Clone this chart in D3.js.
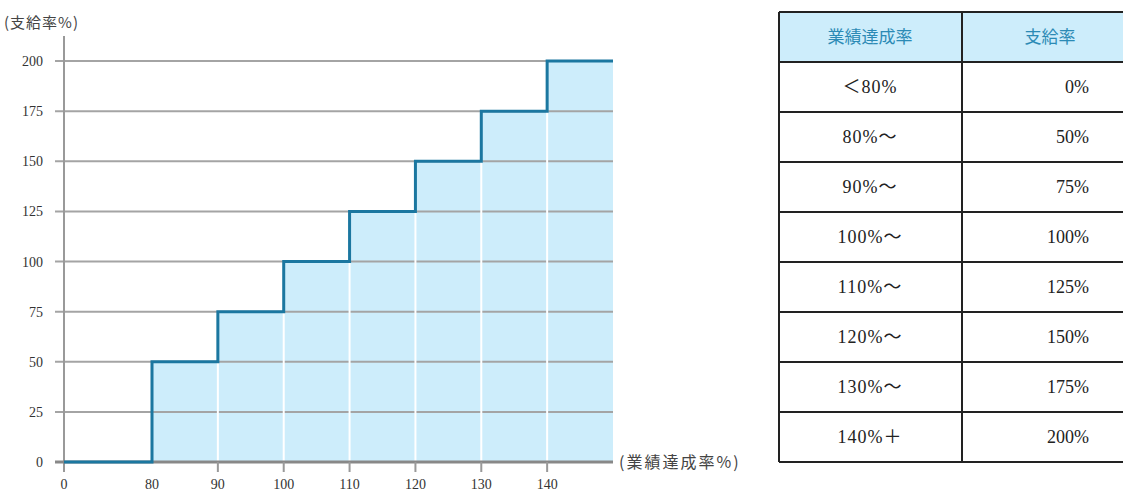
<!DOCTYPE html>
<html><head><meta charset="utf-8">
<script src="https://cdn.jsdelivr.net/npm/d3@7"></script>
<style>body{margin:0;background:#fff}svg{display:block}</style>
</head><body>
<svg id="c" width="1123" height="492"></svg>
<script>
const thresholds = [0, 80, 90, 100, 110, 120, 130, 140];
const payRates = [0, 50, 75, 100, 125, 150, 175, 200];
const xEnd = 150;
const yTicks = [0, 25, 50, 75, 100, 125, 150, 175, 200];
const xTicks = [0, 80, 90, 100, 110, 120, 130, 140];
const tableHeader = ["業績達成率", "支給率"];
const tableCol1 = ["＜80%", "80%～", "90%～", "100%～", "110%～", "120%～", "130%～", "140%＋"];
const tableCol2 = ["0%", "50%", "75%", "100%", "125%", "150%", "175%", "200%"];
const yTitle = "(支給率%)";
const xTitle = "(業績達成率%)";

const svg = d3.select("#c");
const serif = "'Liberation Serif','DejaVu Serif','Noto Sans CJK JP',serif";
const cjk = "'Noto Sans CJK JP',sans-serif";
const x = d3.scaleLinear().domain([0, 80, xEnd]).range([64, 152, 613]);
const y = d3.scaleLinear().domain([0, 200]).range([462, 61]);

const pts = thresholds.map((t, i) => [t, payRates[i]]).concat([[xEnd, payRates[payRates.length - 1]]]);

// area fill
svg.append("path").datum(pts)
  .attr("d", d3.area().curve(d3.curveStepAfter).x(d => x(d[0])).y0(y(0)).y1(d => y(d[1])))
  .attr("fill", "#cdedfb");

// horizontal gridlines
svg.append("g").selectAll("line").data(yTicks.filter(v => v > 0)).join("line")
  .attr("x1", 55).attr("x2", x(xEnd)).attr("y1", d => y(d)).attr("y2", d => y(d))
  .attr("stroke", "#a4a4a4").attr("stroke-width", 2);

// white vertical lines inside fill
svg.append("g").selectAll("line").data(thresholds.slice(2)).join("line")
  .attr("x1", d => x(d)).attr("x2", d => x(d))
  .attr("y1", y(0)).attr("y2", (d, i) => y(payRates[i + 1]))
  .attr("stroke", "#ffffff").attr("stroke-width", 2);

// y axis line
svg.append("line").attr("x1", x(0)).attr("x2", x(0)).attr("y1", 36).attr("y2", 472)
  .attr("stroke", "#999").attr("stroke-width", 2);

// x axis line
svg.append("line").attr("x1", 55).attr("x2", x(xEnd)).attr("y1", y(0)).attr("y2", y(0))
  .attr("stroke", "#888").attr("stroke-width", 3);

// x ticks
svg.append("g").selectAll("line").data(xTicks.filter(v => v > 80)).join("line")
  .attr("x1", d => x(d)).attr("x2", d => x(d)).attr("y1", y(0)).attr("y2", 472)
  .attr("stroke", "#999").attr("stroke-width", 2);

// step line
svg.append("path").datum(pts)
  .attr("d", d3.line().curve(d3.curveStepAfter).x(d => x(d[0])).y(d => y(d[1])))
  .attr("fill", "none").attr("stroke", "#1b77a0").attr("stroke-width", 3);

// y labels
svg.append("g").selectAll("text").data(yTicks).join("text")
  .attr("x", 43).attr("y", d => y(d) + 5).attr("text-anchor", "end")
  .attr("font-family", serif).attr("font-size", 14).attr("fill", "#333")
  .text(d => d);

// x labels
svg.append("g").selectAll("text").data(xTicks).join("text")
  .attr("x", d => x(d)).attr("y", 489).attr("text-anchor", "middle")
  .attr("font-family", serif).attr("font-size", 14).attr("fill", "#333")
  .text(d => d);

svg.append("text").attr("x", 4).attr("y", 28).attr("font-family", cjk).attr("font-size", 15)
  .attr("letter-spacing", 1).attr("fill", "#444").text(yTitle);
svg.append("text").attr("x", 619).attr("y", 468).attr("font-family", cjk).attr("font-size", 16)
  .attr("letter-spacing", 2).attr("fill", "#444").text(xTitle);

// table
const tL = 779, tR = 1140, tC = 962, tT = 12, rowH = 50;
const nRows = tableCol1.length + 1;
svg.append("rect").attr("x", tL).attr("y", tT).attr("width", tR - tL).attr("height", rowH)
  .attr("fill", "#cdedfb");
const hl = d3.range(nRows + 1);
svg.append("g").selectAll("line").data(hl).join("line")
  .attr("x1", tL).attr("x2", tR).attr("y1", d => tT + d * rowH).attr("y2", d => tT + d * rowH)
  .attr("stroke", "#222").attr("stroke-width", 2);
svg.append("g").selectAll("line").data([tL, tC]).join("line")
  .attr("x1", d => d).attr("x2", d => d).attr("y1", tT).attr("y2", tT + nRows * rowH)
  .attr("stroke", "#222").attr("stroke-width", 2);
svg.append("g").selectAll("text").data(tableHeader).join("text")
  .attr("x", (d, i) => i === 0 ? 870 : 1050).attr("y", tT + rowH / 2 + 6)
  .attr("text-anchor", "middle").attr("font-family", cjk).attr("font-size", 17)
  .attr("fill", "#2b8ab5").text(d => d);
svg.append("g").selectAll("text").data(tableCol1).join("text")
  .attr("x", 870).attr("y", (d, i) => tT + (i + 1) * rowH + rowH / 2 + 6)
  .attr("text-anchor", "middle").attr("font-family", serif).attr("font-size", 18)
  .attr("letter-spacing", 1).attr("fill", "#222").text(d => d);
svg.append("g").selectAll("text").data(tableCol2).join("text")
  .attr("x", 1089).attr("y", (d, i) => tT + (i + 1) * rowH + rowH / 2 + 6)
  .attr("text-anchor", "end").attr("font-family", serif).attr("font-size", 18)
  .attr("fill", "#222").text(d => d);
</script>
</body></html>
